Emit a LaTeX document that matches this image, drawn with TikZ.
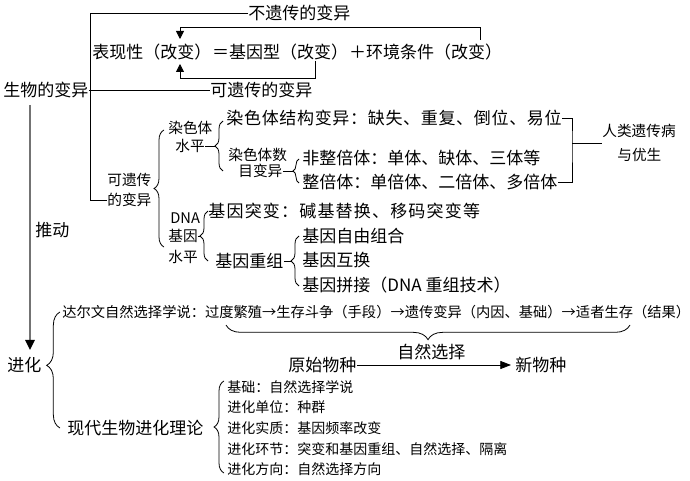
\documentclass[tikz,border=0pt]{standalone}
\usepackage{fontspec}
\newfontfamily\cjk{Noto Sans CJK SC}
\usetikzlibrary{arrows.meta,decorations.pathreplacing}

\tikzset{
  txt/.style={anchor=west, inner sep=0pt, font=\cjk\fontsize{12.75}{15}\selectfont},
  lbl/.style={anchor=west, inner sep=0pt, font=\cjk\fontsize{11}{13}\selectfont},
  note/.style={anchor=west, inner sep=0pt, align=left, font=\cjk\fontsize{10.5}{15.5}\selectfont},
  wide/.style={font=\cjk\fontsize{12.75}{15}\selectfont\addfontfeatures{LetterSpace=#1}},
  curly/.style={decorate, decoration={brace, amplitude=#1}},
  tip/.style={-{Triangle[length=6pt, width=6pt]}},
  push/.style={draw=black!55, line width=1.5pt, -{Triangle[length=7.5pt, width=7pt, color=black]}},
}

\begin{document}
\begin{tikzpicture}[x=0.75pt, y=-0.75pt, line width=0.6pt]
    \useasboundingbox (0,0) rectangle (690,481);
    % variation: phenotype = genotype + environment
    \node[txt] (buyi) at (248,13) {不遗传的变异};
    \node[txt] (pheno) at (92,52) {表现性（改变）};
    \node[txt] (geno) at (pheno.east) {＝基因型（改变）};
    \node[txt] (envir) at (geno.east) {＋环境条件（改变）};
    \node[txt] (shengwu) at (3,90) {生物的变异};
    \node[txt] (kyb) at (210,90) {可遗传的变异};
    \node[coordinate] (e1) at (480,40) {};
    \node[coordinate] (p1) at (180,39) {};
    \node[coordinate] (g1) at (315,61) {};
    \node[coordinate] (p2) at (180,64) {};
    \draw[tip] (e1) -- ++(0,-13) -| (p1);
    \draw[tip] (g1) -- ++(0,17) -| (p2);
    \draw (shengwu.east) -- (kyb.west);

    % heritable variation
    \node[lbl] (kyc1) at (107,180) {可遗传};
    \node[lbl] (kyc2) at (107,200) {的变异};
    \node[coordinate] (v1) at (90,200) {};
    \draw (buyi.west) -| (v1) -- (kyc2.west);
    \node[lbl] (rst1) at (168,128) {染色体};
    \node[lbl] (rst2) at (175,146) {水平};
    \node[lbl] (dna1) at (170,218) {DNA};
    \node[lbl] (dna2) at (168,236) {基因};
    \node[lbl] (dna3) at (168,257) {水平};
    \node[txt, wide=4] (jiegou) at (226,118) {染色体结构变异：缺失、重复、倒位、易位};
    \node[lbl] (mub1) at (228,155) {染色体数};
    \node[lbl] (mub2) at (238,171) {目变异};
    \node[txt] (feizheng) at (302,158) {非整倍体：单体、缺体、三体等};
    \node[txt] (zheng) at (302,182) {整倍体：单倍体、二倍体、多倍体};
    \node[lbl] (ren1) at (602,131) {人类遗传病};
    \node[lbl] (ren2) at (617,155) {与优生};
    \node[txt, wide=7] (tubian) at (208,211) {基因突变：碱基替换、移码突变等};
    \node[txt] (chongzu) at (215,261) {基因重组};
    \node[txt] (ziyou) at (302,236) {基因自由组合};
    \node[txt] (huhuan) at (302,260) {基因互换};
    \node[txt] (pinjie) at (302,285) {基因拼接（DNA 重组技术）};

    % braces
    \node[coordinate] (b1a) at (164,247) {};
    \node[coordinate] (b1b) at (164,130) {};
    \node[coordinate] (b2a) at (223,171) {};
    \node[coordinate] (b2b) at (223,121) {};
    \node[coordinate] (t2) at (215,146) {};
    \node[coordinate] (b3a) at (299,183) {};
    \node[coordinate] (b3b) at (299,159) {};
    \node[coordinate] (t3) at (293,171) {};
    \node[coordinate] (b4a) at (208,261) {};
    \node[coordinate] (b4b) at (208,211) {};
    \node[coordinate] (t4) at (200,236) {};
    \node[coordinate] (b5a) at (299,286) {};
    \node[coordinate] (b5b) at (299,236) {};
    \node[coordinate] (t5) at (291,261) {};
    \draw[curly=7.5pt] (b1a) -- (b1b);
    \draw[curly=6pt] (b2a) -- (b2b);
    \draw[curly=4.5pt] (b3a) -- (b3b);
    \draw[curly=6pt] (b4a) -- (b4b);
    \draw[curly=6pt] (b5a) -- (b5b);
    \draw (rst2.east) -- (t2);
    \draw (mub2.east) -- (t3);
    \draw (dna2.east) -- (t4);
    \draw (chongzu.east) -- (t5);

    % to human genetic disease
    \node[coordinate] (r1) at (572,143) {};
    \draw (jiegou.east) -| (r1) |- (zheng.east);
    \draw (r1) -- (r1 -| ren1.west);

    % evolution
    \node[txt] (jinhua) at (7,365) {进化};
    \node[txt] (tuidong) at (35,230) {推动};
    \node[coordinate] (a1) at (30,105) {};
    \node[coordinate] (a2) at (30,350) {};
    \draw[push] (a1) -- (a2);
    \node[note, font=\cjk\fontsize{10.7}{15.5}\selectfont] (darwin) at (62,312) {达尔文自然选择学说：过度繁殖→生存斗争（手段）→遗传变异（内因、基础）→适者生存（结果）};
    \node[coordinate] (u1) at (630,325) {};
    \node[coordinate] (u2) at (226,325) {};
    \draw[curly=11pt] (u1) -- (u2);
    \node[txt] (zrxz) at (397,352) {自然选择};
    \node[txt] (yuanshi) at (288,365) {原始物种};
    \node[txt] (xin) at (515,365) {新物种};
    \draw[-{Triangle[length=8pt, width=6pt]}, shorten >=3pt] (yuanshi.east) -- (xin.west);
    \node[txt] (xiandai) at (67,428) {现代生物进化理论};
    \node[note] (lilun) at (227,428) {基础：自然选择学说\\进化单位：种群\\进化实质：基因频率改变\\进化环节：突变和基因重组、自然选择、隔离\\进化方向：自然选择方向};
    \node[coordinate] (b6a) at (60,428) {};
    \node[coordinate] (b6b) at (60,312) {};
    \node[coordinate] (b7a) at (224,473) {};
    \node[coordinate] (b7b) at (224,381) {};
    \draw[curly=10pt, decoration={aspect=0.54}] (b6a) -- (b6b);
    \draw[curly=7.5pt] (b7a) -- (b7b);
\end{tikzpicture}
\end{document}
